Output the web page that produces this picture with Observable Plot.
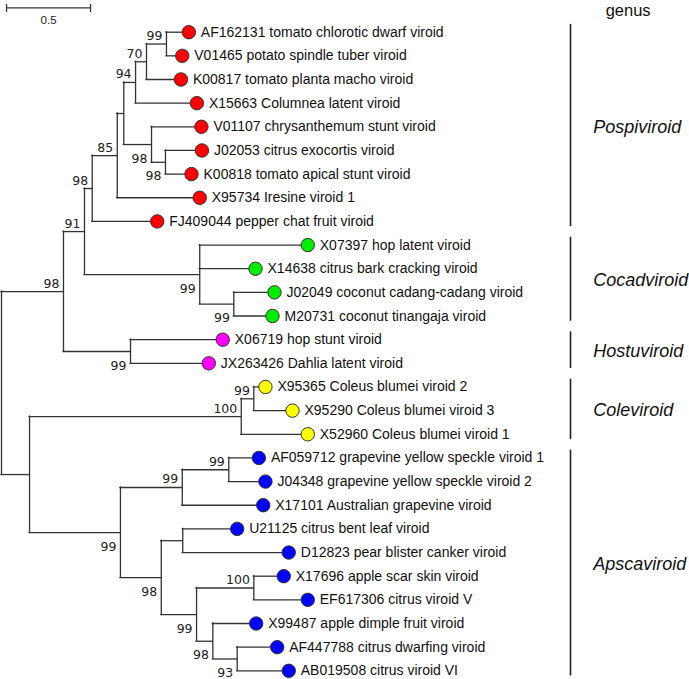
<!DOCTYPE html>
<html><head><meta charset="utf-8">
<script src="https://cdn.jsdelivr.net/npm/d3@7"></script>
<script src="https://cdn.jsdelivr.net/npm/@observablehq/plot@0.6"></script>
<style>
html,body{margin:0;padding:0;background:#fff}
#chart svg{display:block}
</style>
</head><body><div id="chart"></div>
<script>
// ---- internal nodes of the tree (parent listed before child) ----
const nodeIds       = ["A","B","Pos","P85","P124","P94","P70","P99","P98b","P98c","Coc","C2","Hos","D","Col","Col99","Aps","S1","S1a","S2","S2a","S3","S3a","S3b","S3c"];
const nodeParents   = ["root","A","B","Pos","P85","P124","P94","P70","P124","P98b","B","Coc","A","root","D","Col","D","Aps","S1","Aps","S2","S2","S3","S3","S3b"];
const nodeLengths   = [0.369,0.125,0.046,0.149,0.039,0.070,0.065,0.119,0.165,0.083,0.686,0.203,0.399,0.167,1.260,0.075,0.541,0.368,0.277,0.243,0.128,0.210,0.341,0.097,0.145];
const nodeBootstrap = [98,91,98,85,null,94,70,99,98,98,99,99,99,null,100,99,99,99,99,98,null,99,100,98,93];

// ---- leaves (top to bottom) ----
const leafAccessions = ["AF162131","V01465","K00817","X15663","V01107","J02053","K00818","X95734","FJ409044","X07397","X14638","J02049","M20731","X06719","JX263426","X95365","X95290","X52960","AF059712","J04348","X17101","U21125","D12823","X17696","EF617306","X99487","AF447788","AB019508"];
const leafNames = ["tomato chlorotic dwarf viroid","potato spindle tuber viroid","tomato planta macho viroid","Columnea latent viroid","chrysanthemum stunt viroid","citrus exocortis viroid","tomato apical stunt viroid","Iresine viroid 1","pepper chat fruit viroid","hop latent viroid","citrus bark cracking viroid","coconut cadang-cadang viroid","coconut tinangaja viroid","hop stunt viroid","Dahlia latent viroid","Coleus blumei viroid 2","Coleus blumei viroid 3","Coleus blumei viroid 1","grapevine yellow speckle viroid 1","grapevine yellow speckle viroid 2","Australian grapevine viroid","citrus bent leaf viroid","pear blister canker viroid","apple scar skin viroid","citrus viroid V","apple dimple fruit viroid","citrus dwarfing viroid","citrus viroid VI"];
const leafParents = ["P99","P99","P70","P94","P98b","P98c","P98c","P85","Pos","Coc","Coc","C2","C2","Hos","Hos","Col99","Col99","Col","S1a","S1a","S1","S2a","S2a","S3a","S3a","S3b","S3c","S3c"];
const leafLengths = [0.133,0.094,0.205,0.365,0.297,0.217,0.155,0.491,0.387,0.643,0.332,0.242,0.230,0.549,0.466,0.069,0.230,0.396,0.179,0.218,0.482,0.324,0.631,0.178,0.321,0.258,0.238,0.307];
const leafGenus = ["Pospiviroid","Pospiviroid","Pospiviroid","Pospiviroid","Pospiviroid","Pospiviroid","Pospiviroid","Pospiviroid","Pospiviroid","Cocadviroid","Cocadviroid","Cocadviroid","Cocadviroid","Hostuviroid","Hostuviroid","Coleviroid","Coleviroid","Coleviroid","Apscaviroid","Apscaviroid","Apscaviroid","Apscaviroid","Apscaviroid","Apscaviroid","Apscaviroid","Apscaviroid","Apscaviroid","Apscaviroid"];

const genusNames  = ["Pospiviroid","Cocadviroid","Hostuviroid","Coleviroid","Apscaviroid"];
const genusColors = ["#ff0000","#00ee00","#ff00ff","#ffff00","#0000ff"];
const genusTitle = "genus";
const scaleBarLength = 0.5;

// ---- build tree ----
const root = {id:"root", depth:0, children:[]};
const byId = new Map([["root", root]]);
nodeIds.forEach((id,i) => {
  const p = byId.get(nodeParents[i]);
  const n = {id, parent:p, depth:p.depth + nodeLengths[i], boot:nodeBootstrap[i], children:[]};
  p.children.push(n); byId.set(id, n);
});
const leaves = leafAccessions.map((acc,i) => {
  const p = byId.get(leafParents[i]);
  const n = {id:acc, label: acc + " " + leafNames[i], parent:p, depth:p.depth + leafLengths[i], y:i, leaf:true, genus:leafGenus[i]};
  p.children.push(n); return n;
});
function setY(n){
  if (n.leaf) return n.y;
  const ys = n.children.map(setY);
  n.y0 = d3.min(ys); n.y1 = d3.max(ys); n.y = (n.y0 + n.y1)/2;
  return n.y;
}
setY(root);
const internals = [...byId.values()];
const hseg = [...internals.filter(n => n.parent), ...leaves].map(n => ({x1:n.parent.depth, x2:n.depth, y:n.y}));
const vseg = internals.map(n => ({x:n.depth, y1:n.y0, y2:n.y1}));
const boots = internals.filter(n => n.boot != null).map(n => ({x:n.depth, y:n.y, text:String(n.boot), above: n.y === n.parent.y0}));

const genusData = genusNames.map(g => {
  const idx = leafGenus.map((v,i)=>v===g?i:-1).filter(i=>i>=0);
  const first = d3.min(idx), last = d3.max(idx);
  return {genus:g, first, last, mid:(first+last)/2};
});

const BAR_X = 3.387, GLABEL_X = 3.522;
const sans = "Arial, 'Liberation Sans', sans-serif";
const bootFont = "'DejaVu Sans', Verdana, sans-serif";
const lineColor = "#333";

const chart = Plot.plot({
  width: 689, height: 679,
  x: {domain:[0,4], range:[1,673], axis:null},
  y: {domain:[0,27], range:[31.7,670.3], axis:null},
  color: {domain: genusNames, range: genusColors},
  style: {background:"#fff", fontFamily: sans},
  marks: [
    // tree branches
    Plot.ruleY(hseg, {y:"y", x1:"x1", x2:"x2", stroke:lineColor, strokeWidth:1.3, strokeLinecap:"square"}),
    Plot.ruleX(vseg, {x:"x", y1:"y1", y2:"y2", stroke:lineColor, strokeWidth:1.3, strokeLinecap:"square"}),
    // bootstrap values
    Plot.text(boots.filter(d=>d.above), {x:"x", y:"y", text:"text", textAnchor:"end", lineAnchor:"bottom", dx:-4, dy:-4, fontSize:12.5, fontFamily:bootFont, fill:"#222"}),
    Plot.text(boots.filter(d=>!d.above), {x:"x", y:"y", text:"text", textAnchor:"end", lineAnchor:"bottom", dx:-4, dy:18, fontSize:12.5, fontFamily:bootFont, fill:"#222"}),
    // leaf markers and labels
    Plot.dot(leaves, {x:"depth", y:"y", r:6.7, fill:"genus", stroke:"#333", strokeWidth:1}),
    Plot.text(leaves, {x:"depth", y:"y", text:"label", textAnchor:"start", dx:12, fontSize:14, fill:"#111"}),
    // genus bars and labels
    Plot.ruleX(genusData, {x:() => BAR_X, y1:d => d.first - 0.33, y2:d => d.last + 0.22, stroke:"#222", strokeWidth:1.6}),
    Plot.text(genusData, {x:() => GLABEL_X, y:"mid", text:"genus", textAnchor:"start", fontSize:18, fontStyle:"italic", fill:"#111"}),
    Plot.text([genusTitle], {x:() => 3.73, y:() => -0.68, text:d=>d, textAnchor:"middle", lineAnchor:"bottom", fontSize:16.5, fill:"#111"}),
    // scale bar
    Plot.ruleY([scaleBarLength], {y:() => -1.03, x1:() => 0.03, x2:d => 0.03 + d, stroke:lineColor, strokeWidth:1.3}),
    Plot.ruleX([0.03, 0.03 + scaleBarLength], {x:d=>d, y1:() => -1.17, y2:() => -0.83, stroke:lineColor, strokeWidth:1.3}),
    Plot.text([scaleBarLength], {x:d => 0.03 + d/2, y:() => -0.49, text:d=>String(d), textAnchor:"middle", fontSize:11.5, fill:"#222"})
  ]
});
document.getElementById("chart").append(chart);
</script>
</body></html>
